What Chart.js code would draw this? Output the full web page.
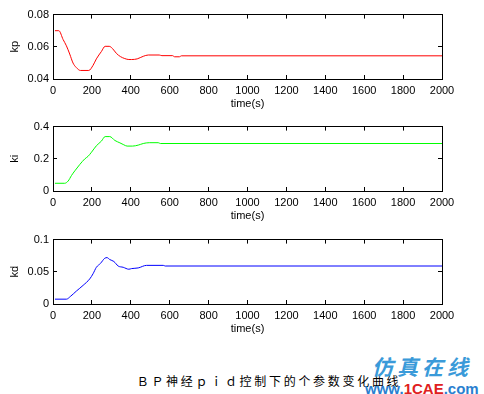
<!DOCTYPE html>
<html>
<head>
<meta charset="utf-8">
<script src="https://cdn.jsdelivr.net/npm/chart.js@4/dist/chart.umd.min.js"></script>
<style>
  body { margin: 0; background: #fff; width: 484px; height: 394px; position: relative; overflow: hidden; }
  canvas { position: absolute; left: 0; }
  .caption { position: absolute; left: 0; width: 538px; top: 372px; text-align: center;
    font: 12px "Noto Sans CJK SC", sans-serif; letter-spacing: 2.7px; color: #000; }
  .logo { position: absolute; left: 372px; top: 351px; font: bold 21px "Noto Sans CJK SC", sans-serif;
    color: #3a9ad9; letter-spacing: 4px; font-style: italic; }
  .site { position: absolute; left: 365px; top: 380px; font: bold 15px "Liberation Sans", sans-serif; color: #2a7fd0; }
  .site span { color: #e02020; }
</style>
</head>
<body>
<canvas id="kpChart" width="484" height="112" style="top:0px"></canvas>
<canvas id="kiChart" width="484" height="112" style="top:112px"></canvas>
<canvas id="kdChart" width="484" height="112" style="top:225px"></canvas>
<div class="caption">ＢＰ神经ｐｉｄ控制下的个参数变化曲线</div>
<div class="logo">仿真在线</div>
<div class="site">www.<span>1CAE</span>.com</div>
<script>
// values
const kpTime = [10, 30, 52, 69, 86, 103, 120, 141, 184, 206, 223, 249, 268, 289, 306, 326, 347, 369, 390, 404, 433, 464, 490, 546, 560, 615, 625, 650, 660, 2000];
const kpValue = [0.070, 0.070, 0.0645, 0.0606, 0.0555, 0.0499, 0.0471, 0.0453, 0.0453, 0.0485, 0.0525, 0.0571, 0.0603, 0.0603, 0.0589, 0.0559, 0.0539, 0.0527, 0.0521, 0.0521, 0.0525, 0.0541, 0.0549, 0.0549, 0.0545, 0.0545, 0.0538, 0.0538, 0.0544, 0.0544];

const kiTime = [10, 60, 78, 95, 112, 138, 163, 180, 198, 223, 249, 268, 292, 318, 344, 364, 381, 409, 438, 464, 495, 541, 552, 2000];
const kiValue = [0.048, 0.048, 0.062, 0.096, 0.125, 0.165, 0.199, 0.215, 0.241, 0.281, 0.31, 0.338, 0.338, 0.314, 0.299, 0.287, 0.279, 0.279, 0.285, 0.295, 0.30, 0.30, 0.295, 0.295];

const kdTime = [10, 69, 89, 120, 155, 189, 206, 223, 244, 266, 278, 292, 313, 335, 361, 390, 404, 438, 481, 567, 577, 2000];
const kdValue = [0.0075, 0.0075, 0.0116, 0.020, 0.029, 0.039, 0.047, 0.057, 0.063, 0.071, 0.072, 0.069, 0.066, 0.059, 0.057, 0.054, 0.055, 0.056, 0.060, 0.060, 0.059, 0.059];

const timeMin = 0, timeMax = 2000, timeStep = 200;

const axisFont = { family: '"Liberation Sans", Arial, sans-serif', size: 11 };
Chart.defaults.color = '#000';

function tickText(v) {
  return String(+Number(v).toFixed(4));
}

function makeChart(id, times, values, color, name, yMin, yMax, yStep) {
  const pts = times.map((t, i) => ({ x: t, y: values[i] }));
  const frame = { display: true, color: '#000', width: 1 };
  const inward = { drawOnChartArea: false, drawTicks: true, tickLength: -4, color: '#000' };
  return new Chart(document.getElementById(id), {
    type: 'line',
    data: {
      datasets: [{
        data: pts,
        borderColor: color,
        borderWidth: 1,
        pointRadius: 0,
        cubicInterpolationMode: 'monotone',
        fill: false
      }]
    },
    options: {
      responsive: false,
      animation: false,
      layout: { padding: { top: 12, right: 42, left: 0, bottom: 0 } },
      plugins: { legend: { display: false }, tooltip: { enabled: false } },
      scales: {
        x: {
          type: 'linear', position: 'bottom', min: timeMin, max: timeMax,
          border: frame, grid: inward,
          ticks: { stepSize: timeStep, padding: 9, maxRotation: 0, font: axisFont, callback: tickText },
          title: { display: true, text: 'time(s)', font: axisFont, padding: { top: 0, bottom: 1 } },
          afterFit: s => { s.height = 33; }
        },
        xTop: {
          type: 'linear', position: 'top', min: timeMin, max: timeMax,
          border: frame, grid: inward,
          ticks: { stepSize: timeStep, display: false },
          afterFit: s => { s.height = 0; }
        },
        y: {
          type: 'linear', position: 'left', min: yMin, max: yMax,
          border: frame, grid: inward,
          ticks: { stepSize: yStep, padding: 8, font: axisFont, callback: tickText },
          title: { display: true, text: name, font: axisFont, padding: { top: 8, bottom: 0 } },
          afterFit: s => { s.width = 53; }
        },
        yRight: {
          type: 'linear', position: 'right', min: yMin, max: yMax,
          border: frame, grid: inward,
          ticks: { stepSize: yStep, display: false },
          afterFit: s => { s.width = 0; }
        }
      }
    }
  });
}

makeChart('kpChart', kpTime, kpValue, '#ff0000', 'kp', 0.04, 0.08, 0.02);
makeChart('kiChart', kiTime, kiValue, '#00ff00', 'ki', 0, 0.4, 0.2);
makeChart('kdChart', kdTime, kdValue, '#0000ff', 'kd', 0, 0.1, 0.05);
</script>
</body>
</html>
